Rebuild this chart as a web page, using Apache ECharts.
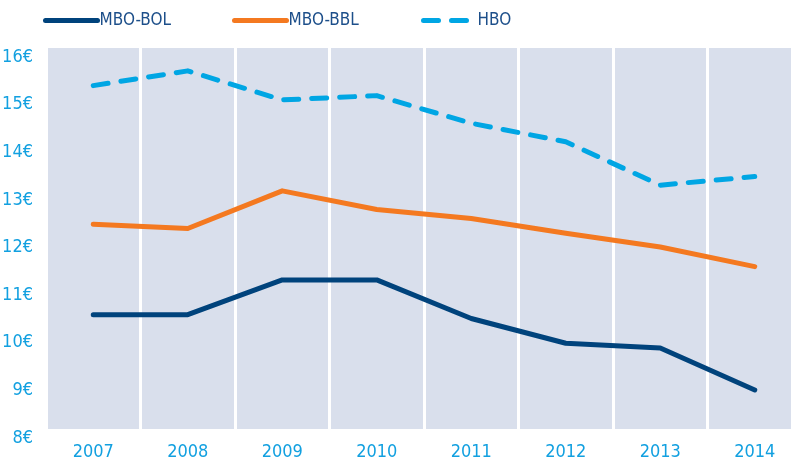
<!DOCTYPE html>
<html>
<head>
<meta charset="utf-8">
<script src="https://cdn.jsdelivr.net/npm/echarts@6/dist/echarts.min.js"></script>
<style>
html, body { margin: 0; padding: 0; background: #fff; }
#chart { width: 791px; height: 462px; }
</style>
</head>
<body>
<div id="chart"></div>
<script>
const years = ['2007', '2008', '2009', '2010', '2011', '2012', '2013', '2014']
const mboBol = [10.4, 10.4, 11.13, 11.13, 10.32, 9.8, 9.7, 8.82]
const mboBbl = [12.3, 12.21, 13.0, 12.61, 12.42, 12.11, 11.82, 11.41]
const hbo = [15.21, 15.52, 14.91, 15.0, 14.42, 14.03, 13.12, 13.3]
const yTicks = [8, 9, 10, 11, 12, 13, 14, 15, 16]

const font = "'Liberation Sans Narrow', 'DejaVu Sans Condensed', 'Roboto', sans-serif"
const navy = '#00437c'
const orange = '#f47920'
const sky = '#00a6e4'
const textNavy = '#1d4f8a'
const labelBlue = '#12a0e0'

const chart = echarts.init(document.getElementById('chart'))

// one legend per entry so each can sit where it does in the picture
const legendAt = (name, left) => ({
    data: [name],
    left: left,
    top: 12,
    padding: 0,
    itemWidth: 52,
    itemHeight: 14,
    itemGap: 0,
    itemStyle: { opacity: 0 },
    lineStyle: { width: 5, cap: 'round' },
    textStyle: { fontFamily: font, fontSize: 17, color: textNavy, padding: [0, 0, 0, -3] },
})

const option = {
    animation: false,
    legend: [
        legendAt('MBO-BOL', 43),
        legendAt('MBO-BBL', 232),
        legendAt('HBO', 421),
    ],
    grid: {
        show: true,
        backgroundColor: '#d9dfec',
        borderWidth: 0,
        outerBoundsMode: 'none',
        left: 46,
        right: -11,
        top: 48,
        bottom: 33,
    },
    xAxis: {
        type: 'category',
        data: years,
        boundaryGap: true,
        axisLine: { show: false },
        axisTick: { show: false },
        axisLabel: { fontFamily: font, fontSize: 18, color: labelBlue, margin: 14 },
        splitLine: { show: true, lineStyle: { color: '#ffffff', width: 3 } },
    },
    yAxis: {
        type: 'value',
        min: yTicks[0],
        max: yTicks[yTicks.length - 1],
        interval: 1,
        axisLine: { show: false },
        axisTick: { show: false },
        splitLine: { show: false },
        axisLabel: {
            fontFamily: font,
            fontSize: 18,
            color: labelBlue,
            margin: 13,
            verticalAlign: 'top',
            formatter: v => v + '€',
        },
    },
    series: [
        {
            name: 'MBO-BOL',
            type: 'line',
            data: mboBol,
            symbol: 'none',
            lineStyle: { color: navy, width: 5, cap: 'round', join: 'round' },
            itemStyle: { color: navy },
        },
        {
            name: 'MBO-BBL',
            type: 'line',
            data: mboBbl,
            symbol: 'none',
            lineStyle: { color: orange, width: 5, cap: 'round', join: 'round' },
            itemStyle: { color: orange },
        },
        {
            name: 'HBO',
            type: 'line',
            data: hbo,
            symbol: 'none',
            lineStyle: { color: sky, width: 5, cap: 'round', join: 'round', type: [15, 13] },
            itemStyle: { color: sky },
        },
    ],
}

chart.setOption(option)
window.addEventListener('resize', () => {
    chart.resize()
})
</script>
</body>
</html>
